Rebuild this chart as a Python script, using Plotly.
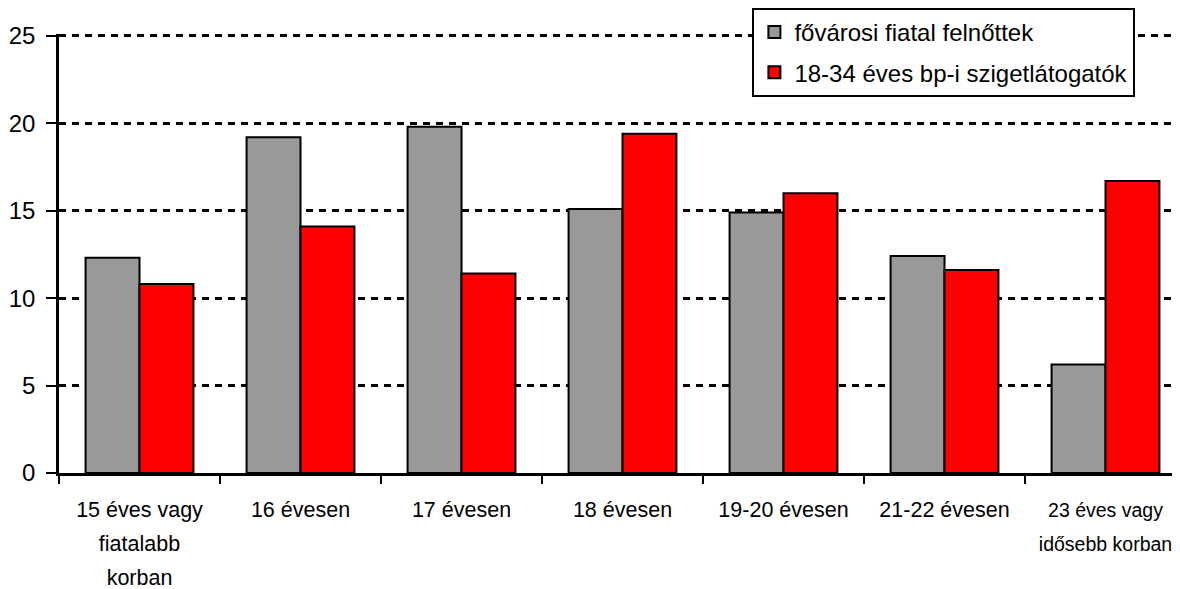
import plotly.graph_objects as go

categories = ["15 éves vagy<br>fiatalabb<br>korban", "16 évesen", "17 évesen", "18 évesen",
              "19-20 évesen", "21-22 évesen", "23 éves vagy<br>idősebb korban"]
series_names = ["fővárosi fiatal felnőttek", "18-34 éves bp-i szigetlátogatók"]
gray_values = [12.3, 19.2, 19.8, 15.1, 14.9, 12.4, 6.2]
red_values = [10.8, 14.1, 11.4, 19.4, 16.0, 11.6, 16.7]
y_ticks = [0, 5, 10, 15, 20, 25]

FONT = "Liberation Sans, Arial, sans-serif"

# tick label text shown in ~21.5px while the line spacing follows the larger base tick font;
# the last label is a touch smaller so it stays inside the visible page
label_sizes = [21.5, 21.5, 21.5, 21.5, 21.5, 21.5, 19.5]
tick_text = ["<br>".join('<span style="font-size:%spx">%s</span>' % (s, part) for part in c.split("<br>"))
             for c, s in zip(categories, label_sizes)]

fig = go.Figure()
fig.add_trace(go.Bar(x=categories, y=gray_values, name=series_names[0], legendgroup="a",
                     marker=dict(color="#999999", line=dict(color="black", width=2))))
fig.add_trace(go.Bar(x=categories, y=red_values, name=series_names[1], legendgroup="b",
                     marker=dict(color="#ff0000", line=dict(color="black", width=2))))

fig.update_layout(
    width=1164, height=581,
    margin=dict(l=51, r=0, t=24, b=116),
    plot_bgcolor="white", paper_bgcolor="white",
    barmode="group", bargap=0.33, bargroupgap=0,
    font=dict(family=FONT, size=22, color="black"),
    legend=dict(x=0.623, y=1.06, xanchor="left", yanchor="top",
                bgcolor="white", bordercolor="black", borderwidth=2,
                tracegroupgap=6, traceorder="grouped",
                font=dict(family=FONT, size=24, color="black")),
    showlegend=True,
)
fig.update_xaxes(range=[-0.5, 6.413], tickvals=categories, ticktext=tick_text,
                 showline=True, linecolor="black", linewidth=2.5,
                 ticks="outside", tickson="boundaries", ticklen=8, tickwidth=2, tickcolor="black",
                 showgrid=False, tickfont=dict(size=26), tickangle=0, ticklabelstandoff=10,
                 automargin=False)
fig.update_yaxes(range=[0, 25.1], tickvals=y_ticks, showline=True, linecolor="black", linewidth=2.5,
                 ticks="outside", ticklen=10, tickwidth=2, tickcolor="black",
                 showgrid=True, gridcolor="black", gridwidth=2.5, griddash="7px,6px",
                 zeroline=False, tickfont=dict(size=24), ticklabelstandoff=6, automargin=False)

fig.write_html("out.html")
